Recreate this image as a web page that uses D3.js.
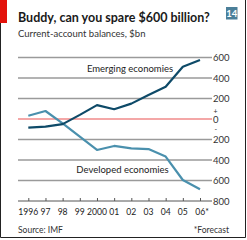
<!DOCTYPE html>
<html><head><meta charset="utf-8">
<script src="https://cdn.jsdelivr.net/npm/d3@7"></script>
<style>body{margin:0;background:#fff}svg{display:block}</style>
</head><body>
<script>
const years = [1996,1997,1998,1999,2000,2001,2002,2003,2004,2005,2006];
const yearLabels = ["1996","97","98","99","2000","01","02","03","04","05","06*"];
const emerging = [-85,-75,-50,40,135,95,150,235,315,510,575];
const developed = [32,78,-42,-172,-302,-263,-286,-293,-367,-595,-686];
const yTicks = [600,400,200,0,-200,-400,-600,-800];
const yTickLabels = ["600","400","200","0","200","400","600","800"];

const W=247,H=240;
const svg=d3.select("body").append("svg").attr("width",W).attr("height",H);
const font="Lato, 'Open Sans', sans-serif";

// frame
svg.append("path").attr("d","M0.5,23 V237.5 H245.5 V0").attr("fill","none").attr("stroke","#222").attr("stroke-width",1);
svg.append("rect").attr("x",0).attr("y",0).attr("width",7).attr("height",23).attr("fill","#e3120b");

svg.append("text").attr("x",18).attr("y",22).attr("font-family",font).attr("font-weight","bold").attr("font-size",12.5).attr("fill","#1a1a1a").text("Buddy, can you spare $600 billion?");
svg.append("text").attr("x",18).attr("y",37).attr("font-family",font).attr("font-size",9.5).attr("fill","#333").text("Current-account balances, $bn");
svg.append("rect").attr("x",226).attr("y",7).attr("width",11.5).attr("height",12.5).attr("fill","#4b7f99");
svg.append("text").attr("x",231.8).attr("y",17).attr("text-anchor","middle").attr("font-family",font).attr("font-weight","bold").attr("font-size",9.5).attr("fill","#fff").text("14");

const x=d3.scaleLinear().domain([1996,2006]).range([28.3,200]);
const y=d3.scaleLinear().domain([-800,600]).range([201,57.5]);

// gridlines
const g=svg.append("g");
yTicks.forEach((t,i)=>{
  g.append("line").attr("x1",18).attr("x2",212).attr("y1",y(t)).attr("y2",y(t))
   .attr("stroke",t===0?"#f08a8a":(t===-800?"#555":"#9a9a9a")).attr("stroke-width",t===-800?1:1.3);
  g.append("text").attr("x",213).attr("y",y(t)+3.5).attr("font-family",font).attr("font-size",9.5).attr("fill","#333").text(yTickLabels[i]);
});
g.append("text").attr("x",213.5).attr("y",113.5).attr("font-family",font).attr("font-size",7).attr("fill","#333").text("+");
g.append("text").attr("x",214.5).attr("y",131.5).attr("font-family",font).attr("font-size",7).attr("fill","#333").text("-");

// x axis
const xAxis=d3.axisTop(x).tickValues(years).tickSize(3).tickFormat("");
const ax=svg.append("g").attr("transform",`translate(0,${y(-800)})`).call(xAxis);
ax.select(".domain").remove();
ax.selectAll("line").attr("stroke","#555");
years.forEach((yr,i)=>{
  svg.append("text").attr("x",x(yr)+(i===10?2:0)).attr("y",214.5).attr("text-anchor","middle").attr("font-family",font).attr("font-size",8.6).attr("fill","#222").text(yearLabels[i]);
});

const line=d3.line().x((d,i)=>x(years[i])).y(d=>y(d));
svg.append("path").datum(developed).attr("d",line).attr("fill","none").attr("stroke","#4a90ad").attr("stroke-width",2.2).attr("stroke-linejoin","round");
svg.append("path").datum(emerging).attr("d",line).attr("fill","none").attr("stroke","#0e4a68").attr("stroke-width",2.2).attr("stroke-linejoin","round");

svg.append("text").attr("x",130).attr("y",71.5).attr("text-anchor","middle").attr("font-family",font).attr("font-size",9.5).attr("fill","#222").text("Emerging economies");
svg.append("text").attr("x",122.5).attr("y",172.5).attr("text-anchor","middle").attr("font-family",font).attr("font-size",9.5).attr("fill","#222").text("Developed economies");

svg.append("text").attr("x",18).attr("y",233).attr("font-family",font).attr("font-size",8.5).attr("fill","#333").text("Source: IMF");
svg.append("text").attr("x",229).attr("y",233).attr("text-anchor","end").attr("font-family",font).attr("font-size",8.5).attr("fill","#333").text("*Forecast");
</script>
</body></html>
